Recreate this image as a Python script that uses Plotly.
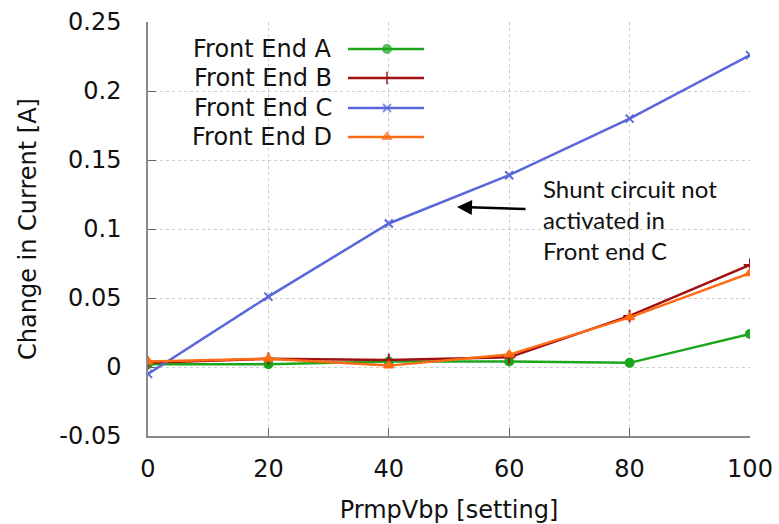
import plotly.graph_objects as go

# ---- data ----
settings = [0, 20, 40, 60, 80, 100]
fe_a = [0.002, 0.002, 0.004, 0.004, 0.003, 0.024]
fe_b = [0.003, 0.006, 0.005, 0.007, 0.037, 0.074]
fe_c = [-0.005, 0.051, 0.104, 0.139, 0.180, 0.226]
fe_d = [0.004, 0.006, 0.001, 0.009, 0.036, 0.068]
names = ["Front End A", "Front End B", "Front End C", "Front End D"]
x_ticks = [0, 20, 40, 60, 80, 100]
y_ticks = [-0.05, 0, 0.05, 0.1, 0.15, 0.2, 0.25]
y_tick_labels = ["-0.05", "0", "0.05", "0.1", "0.15", "0.2", "0.25"]

series = [fe_a, fe_b, fe_c, fe_d]
colors = ["#1ca61c", "#a01010", "#5a66dc", "#ff6a14"]
symbols = ["circle", "cross-thin", "x-thin", "triangle-up"]
msizes = [8, 9, 8, 8]

W, H = 779, 524
L, R, T, B = 148, 29, 22, 88
PW, PH = W - L - R, H - T - B
FS = 24

fig = go.Figure()
for nm, ys, c, s, ms in zip(names, series, colors, symbols, msizes):
    fig.add_trace(go.Scatter(
        x=settings, y=ys, name=nm, mode="lines+markers",
        line=dict(color=c, width=2.5),
        marker=dict(symbol=s, size=ms, color=c, line=dict(color=c, width=2)),
        showlegend=False,
    ))

# custom legend: text on the left, sample on the right
def px_x(p):
    return (p - L) / PW

def px_y(p):
    return (H - B - p) / PH

row_y = [49, 78, 108, 137]
for nm, c, s, ms, ry in zip(names, colors, symbols, msizes, row_y):
    fig.add_annotation(x=px_x(334), y=px_y(ry), xref="paper", yref="paper",
                       text=nm, showarrow=False, xanchor="right", yanchor="middle",
                       font=dict(size=FS, color="#111111", family="DejaVu Sans"))
    fig.add_trace(go.Scatter(
        x=[px_x(348), px_x(387), px_x(424)], y=[px_y(ry)] * 3,
        xaxis="x2", yaxis="y2", mode="lines+markers",
        line=dict(color=c, width=2.5),
        marker=dict(symbol=s, size=[0, ms, 0], color=c, line=dict(color=c, width=2)),
        showlegend=False, hoverinfo="skip",
    ))

# note with arrow
fig.add_annotation(x=px_x(541), y=px_y(219), xref="paper", yref="paper",
                   text="Shunt circuit not<br>activated in<br>Front end C",
                   showarrow=False, xanchor="left", yanchor="middle", align="left",
                   font=dict(size=24, color="#111111", family="Lato"))
fig.add_annotation(x=px_x(457), y=px_y(207), xref="paper", yref="paper",
                   ax=70, ay=2, axref="pixel", ayref="pixel",
                   text="", showarrow=True, arrowhead=2, arrowsize=1.2,
                   arrowwidth=2.5, arrowcolor="#000000")

fig.update_layout(
    width=W, height=H,
    margin=dict(l=L, r=R, t=T, b=B),
    paper_bgcolor="white", plot_bgcolor="white",
    font=dict(family="DejaVu Sans", size=FS, color="#111111"),
    xaxis=dict(
        range=[0, 100], tickvals=x_ticks, ticks="inside", ticklen=8,
        tickcolor="#666666", showline=True, linecolor="#888888", linewidth=1.5,
        showgrid=True, gridcolor="#cccccc", griddash="dot", gridwidth=1,
        zeroline=False, ticklabelstandoff=10, automargin=False,
        title=dict(text="PrmpVbp [setting]", standoff=20, font=dict(size=FS)),
        tickfont=dict(size=FS),
    ),
    yaxis=dict(
        range=[-0.05, 0.25], tickvals=y_ticks, ticktext=y_tick_labels,
        ticks="inside", ticklen=8, tickcolor="#666666",
        showline=True, linecolor="#888888", linewidth=1.5,
        showgrid=True, gridcolor="#cccccc", griddash="dot", gridwidth=1,
        zeroline=False, ticklabelstandoff=20, automargin=False,
        title=dict(text="Change in Current [A]", standoff=16, font=dict(size=FS)),
        tickfont=dict(size=FS),
    ),
    xaxis2=dict(range=[0, 1], overlaying="x", visible=False, fixedrange=True),
    yaxis2=dict(range=[0, 1], overlaying="y", visible=False, fixedrange=True),
)

fig.write_html("out.html", config={"displayModeBar": False},
               post_script="document.body.style.margin='0';document.body.style.overflow='hidden';")
